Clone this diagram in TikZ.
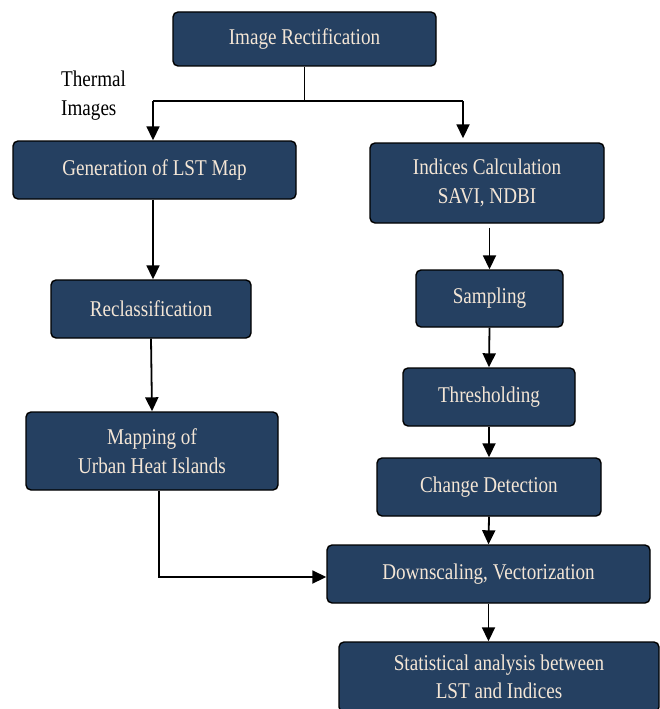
\documentclass[tikz,border=0pt]{standalone}
\usepackage{fontspec}
\setmainfont{Liberation Serif}[FakeStretch=0.85]
\usetikzlibrary{arrows.meta}
\definecolor{navy}{HTML}{254061}
\definecolor{cream}{HTML}{F4E6D6}
\tikzset{
  box/.style={draw=black, line width=1.4pt, fill=navy, rounded corners=5pt,
    text=cream, align=center, inner sep=0pt, font=\fontsize{22.5}{28.5}\selectfont},
  arr/.style={line width=1.8pt, -{Triangle[length=14pt,width=13pt]}},
  ln/.style={line width=1.8pt}
}
\begin{document}
\begin{tikzpicture}[x=1pt,y=1pt]
\useasboundingbox (0,0) rectangle (660,-709);
\node[box, minimum width=263pt, minimum height=54pt] (rect) at (304.5,-39) {Image Rectification};
\node[box, minimum width=283pt, minimum height=58pt] (gen) at (154.5,-170) {Generation of LST Map};
\node[box, minimum width=234pt, minimum height=80pt] (ind) at (487,-183) {Indices Calculation\\SAVI, NDBI};
\node[box, minimum width=200pt, minimum height=58pt] (recl) at (151,-309) {Reclassification};
\node[box, minimum width=252pt, minimum height=78pt] (map) at (152,-451) {Mapping of\\Urban Heat Islands};
\node[box, minimum width=147pt, minimum height=57pt] (samp) at (489.5,-298.5) {Sampling};
\node[box, minimum width=172pt, minimum height=58pt] (thr) at (489,-397) {Thresholding};
\node[box, minimum width=224pt, minimum height=58pt] (chg) at (489,-487) {Change Detection};
\node[box, minimum width=323pt, minimum height=58pt] (down) at (488.5,-574) {Downscaling, Vectorization};
\node[box, minimum width=320pt, minimum height=70pt] (stat) at (499,-677) {Statistical analysis between\\LST and Indices};
\node[align=left, anchor=north west, inner sep=0pt, font=\fontsize{22.5}{28.5}\selectfont] (therm) at (61,-71) {Thermal\\Images};
\coordinate (j) at (304.5,-101);
\coordinate (jl) at (153,-101);
\coordinate (jr) at (463,-101);
\draw[ln] (rect.south) -- (j);
\draw[ln] (jl) -- (jr);
\draw[arr] (jl) -- (jl |- gen.north);
\draw[arr] (jr) -- ([yshift=4pt]jr |- ind.north);
\draw[arr] (gen.south -| 153,0) -- (recl.north -| 153,0);
\draw[arr] (recl.south) -- (map.north);
\draw[arr] ([yshift=-4pt]samp.north |- ind.south) -- (samp.north);
\draw[arr] (samp.south) -- (thr.north);
\draw[arr] (thr.south) -- (chg.north);
\draw[arr] (chg.south) -- (down.north);
\draw[arr] ([xshift=7pt]map.south) |- ([yshift=-3pt]down.west);
\draw[arr] (down.south) -- (stat.north -| down.south);
\end{tikzpicture}
\end{document}
